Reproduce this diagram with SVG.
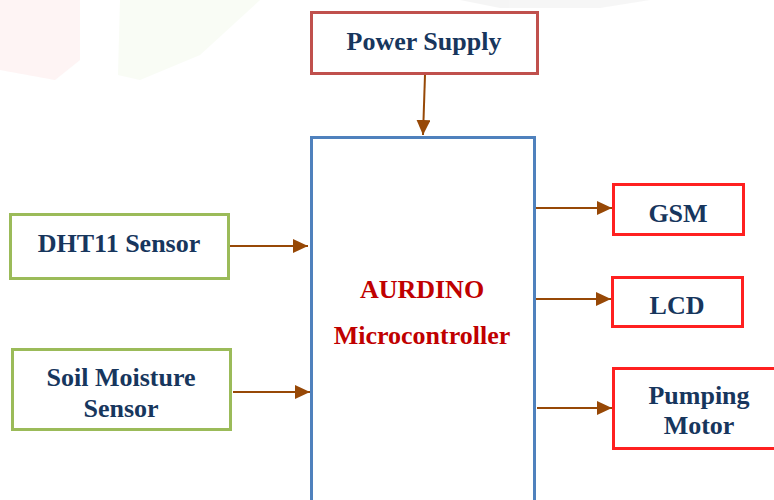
<svg xmlns="http://www.w3.org/2000/svg" width="774" height="500" viewBox="0 0 774 500">
<style>
.t{font-family:'Liberation Serif',serif;font-weight:bold;font-size:26px;fill:#17365d;text-anchor:middle}
.r{fill:#c00000}
.box{fill:#ffffff;stroke-width:3}
.c{stroke:#974806;stroke-width:2;fill:none;marker-end:url(#ah)}
</style>
<defs>
<marker id="ah" markerWidth="15" markerHeight="14" refX="15" refY="7" orient="auto" markerUnits="userSpaceOnUse">
<path d="M0,0 L15,7 L0,14 Z" fill="#974806"/>
</marker>
</defs>
<rect width="774" height="500" fill="#ffffff"/>
<g id="watermark" opacity="0.4">
<path d="M0,0 L80,0 L80,60 L55,80 L0,70 Z" fill="#fde4e4"/>
<path d="M120,0 L260,0 L200,55 L140,80 L118,75 Z" fill="#f1f9e8"/>
<path d="M460,0 L650,0 L600,8 L500,8 Z" fill="#e8e8e8"/>
</g>
<g id="connectors">
<line class="c" x1="425" y1="75" x2="423" y2="135"/>
<line class="c" x1="230" y1="246" x2="308" y2="246"/>
<line class="c" x1="233" y1="392" x2="310" y2="392"/>
<line class="c" x1="536" y1="208" x2="612" y2="208"/>
<line class="c" x1="536" y1="299" x2="611" y2="299"/>
<line class="c" x1="537" y1="408" x2="612" y2="408"/>
</g>
<g id="power">
<rect class="box" x="311.5" y="12.5" width="226" height="61" stroke="#c0504d"/>
<text class="t" x="424" y="50">Power Supply</text>
</g>
<g id="arduino">
<rect class="box" x="311.5" y="137.5" width="223" height="380" stroke="#4f81bd"/>
<text class="t r" x="422" y="298">AURDINO</text>
<text class="t r" x="422" y="344">Microcontroller</text>
</g>
<g id="dht11">
<rect class="box" x="10.5" y="214.5" width="218" height="64" stroke="#9bbb59"/>
<text class="t" x="119" y="252">DHT11 Sensor</text>
</g>
<g id="soil">
<rect class="box" x="12.5" y="349.5" width="218" height="80" stroke="#9bbb59"/>
<text class="t" x="121" y="386">Soil Moisture</text>
<text class="t" x="121" y="417">Sensor</text>
</g>
<g id="gsm">
<rect class="box" x="613.5" y="184.5" width="130" height="50" stroke="#ff2020"/>
<text class="t" x="678" y="222">GSM</text>
</g>
<g id="lcd">
<rect class="box" x="612.5" y="277.5" width="130" height="49" stroke="#ff2020"/>
<text class="t" x="677" y="314">LCD</text>
</g>
<g id="motor">
<rect class="box" x="613.5" y="368.5" width="170" height="80" stroke="#ff2020"/>
<text class="t" x="699" y="404">Pumping</text>
<text class="t" x="699" y="434">Motor</text>
</g>
</svg>
